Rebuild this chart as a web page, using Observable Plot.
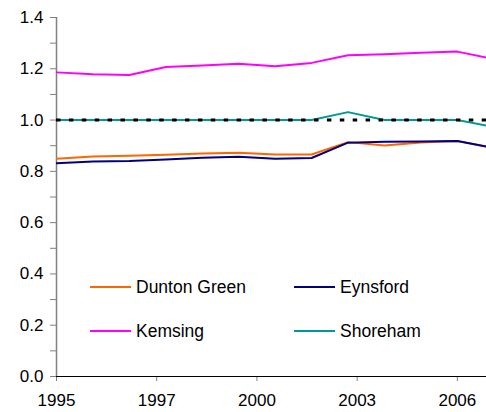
<!DOCTYPE html>
<html>
<head>
<meta charset="utf-8">
<script src="https://cdn.jsdelivr.net/npm/d3@7"></script>
<script src="https://cdn.jsdelivr.net/npm/@observablehq/plot@0.6"></script>
<style>
  html, body { margin: 0; padding: 0; background: #fff; }
  #wrap { position: relative; width: 486px; height: 412px; font-family: Arial, "Liberation Sans", sans-serif; }
  #legend { position: absolute; left: 90px; top: 276px; font-size: 17.5px; color: #000; }
  .item { position: absolute; white-space: nowrap; display: flex; align-items: center; }
  .item svg { margin-right: 5px; }
</style>
</head>
<body>
<div id="wrap"><div id="legend"></div></div>
<script>
const years = [1995, 1996, 1997, 1998, 1999, 2000, 2001, 2002, 2003, 2004, 2005, 2006, 2007];
const duntonGreen = [0.849, 0.858, 0.861, 0.865, 0.870, 0.873, 0.866, 0.866, 0.914, 0.901, 0.913, 0.918, 0.891];
const eynsford    = [0.832, 0.838, 0.840, 0.846, 0.853, 0.857, 0.849, 0.852, 0.912, 0.915, 0.916, 0.918, 0.891];
const kemsing     = [1.186, 1.179, 1.176, 1.207, 1.213, 1.220, 1.210, 1.223, 1.253, 1.257, 1.263, 1.267, 1.238];
const shoreham    = [1.000, 1.000, 1.000, 1.000, 1.000, 1.000, 1.000, 1.000, 1.031, 1.000, 1.000, 1.000, 0.973];
const seriesNames = ["Dunton Green", "Eynsford", "Kemsing", "Shoreham"];
const seriesColors = ["#FF6600", "#000080", "#FF00FF", "#009999"];
const xTickLabels = ["1995", "1997", "2000", "2003", "2006"];
const referenceValue = 1.0;

const seriesValues = [duntonGreen, eynsford, kemsing, shoreham];
const table = seriesNames.flatMap((name, s) =>
  years.map((year, i) => ({ name, year, value: seriesValues[s][i] })));

const xTicks = xTickLabels.map((_, i) => 1995 + i * 2.75);
const yTicks = d3.range(0, 15).map(i => i / 10);

const lines = seriesNames.map((name, s) =>
  Plot.line(table.filter(d => d.name === name), {
    x: "year", y: "value", stroke: seriesColors[s], strokeWidth: 2, clip: true
  }));

const chart = Plot.plot({
  width: 486,
  height: 412,
  marginLeft: 56,
  marginRight: 0,
  marginTop: 17,
  marginBottom: 36,
  style: { fontFamily: 'Arial, "Liberation Sans", sans-serif', fontSize: "17px", background: "white", color: "#000" },
  x: { domain: [1995, 2006.8] },
  y: { domain: [0, 1.4] },
  marks: [
    Plot.axisY({
      ticks: yTicks,
      tickSize: 6,
      tickPadding: 7,
      stroke: "#808080",
      fill: "#000",
      tickFormat: d => (Math.round(d * 10) % 2 === 0 ? d.toFixed(1) : ""),
      label: null
    }),
    Plot.axisX({
      ticks: xTicks,
      tickSize: 5,
      tickPadding: 12,
      stroke: "#808080",
      fill: "#000",
      tickFormat: (d, i) => xTickLabels[i],
      label: null
    }),
    Plot.ruleX([1995], { stroke: "#808080", strokeWidth: 1.5 }),
    ...lines,
    Plot.ruleY([referenceValue], { stroke: "#000", strokeWidth: 3, strokeDasharray: "4.5,8.4" }),
    Plot.ruleY([0], { stroke: "#000", strokeWidth: 1 })
  ]
});

const wrap = document.getElementById("wrap");
wrap.insertBefore(chart, wrap.firstChild);

const legend = document.getElementById("legend");
seriesNames.forEach((name, s) => {
  const item = document.createElement("div");
  item.className = "item";
  item.style.left = (s % 2) * 204 + "px";
  item.style.top = Math.floor(s / 2) * 44 + "px";
  item.innerHTML = `<svg width="41" height="22"><line x1="0" x2="41" y1="11" y2="11" stroke="${seriesColors[s]}" stroke-width="2"/></svg><span>${name}</span>`;
  legend.appendChild(item);
});
</script>
</body>
</html>
